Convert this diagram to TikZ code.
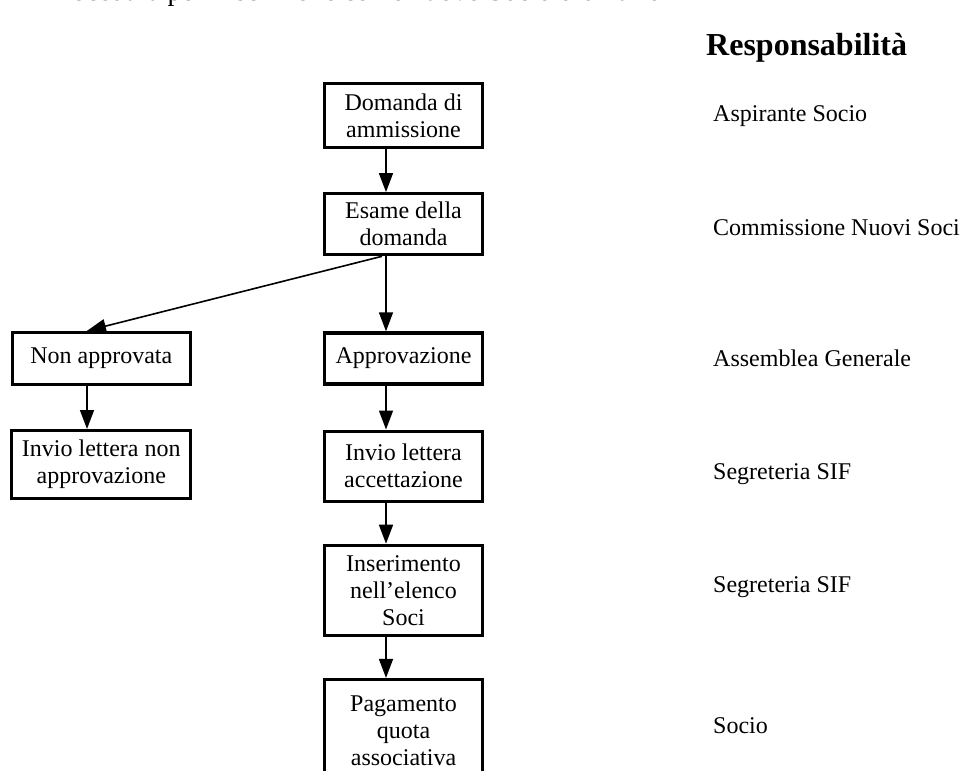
\documentclass[tikz,border=0pt]{standalone}
\usepackage{fontspec}
\setmainfont{Liberation Serif}
\usepackage{tikz}
\usetikzlibrary{positioning, arrows.meta}

\begin{document}
\begin{tikzpicture}[x=1pt, y=-1pt, font=\fontsize{24}{27}\selectfont,
 box/.style={draw, line width=3.2pt, minimum width=158pt, align=center, inner sep=3pt},
 lab/.style={anchor=west, inner sep=0pt},
 arr/.style={-{Triangle[length=19pt,width=14pt]}, line width=1.6pt}]
\useasboundingbox (0,0) rectangle (962,771);

\node[anchor=base west, inner sep=0pt, font=\fontsize{28}{30}\selectfont](tit) at (47,1){Procedura per l’iscrizione come nuovo Socio ordinario};
\node[anchor=west, inner sep=0pt, font=\bfseries\fontsize{32}{36}\selectfont](resp) at (706,48){Responsabilità};

\node[box, minimum height=64pt](dom) at (403.5,115.5){Domanda di\\ammissione};
\node[box, minimum height=61pt, below=43pt of dom](esa){Esame della\\domanda};
\node[box, minimum height=51pt, below=75pt of esa](app){Approvazione};
\node[box, minimum height=70pt, below=44pt of app](acc){Invio lettera\\accettazione};
\node[box, minimum height=90pt, below=41pt of acc](ins){Inserimento\\nell’elenco\\Soci};
\node[box, minimum height=102pt, below=41pt of ins](pag){Pagamento\\quota\\associativa};

\node[box, minimum height=52pt, minimum width=178pt, left=131pt of app](non){Non approvata};
\node[box, minimum height=68pt, minimum width=179pt, below=43pt of non](inv){Invio lettera non\\approvazione};

\coordinate (ax) at (386,0);
\coordinate (bx) at (87,0);
\coordinate (dx) at (382,0);
\coordinate (rx) at (713,0);

\foreach \a/\b in {dom/esa,esa/app,app/acc,acc/ins,ins/pag}
  {\draw[arr](\a.south -| ax)--(\b.north -| ax);}
\draw[arr](esa.south -| dx)--(non.north -| bx);
\draw[arr](non.south -| bx)--(inv.north -| bx);

\node[lab](r1) at ([yshift=-1pt]dom -| rx){Aspirante Socio};
\node[lab](r2) at ([yshift=-3pt]esa -| rx){Commissione Nuovi Soci};
\node[lab](r3) at (app -| rx){Assemblea Generale};
\node[lab](r4) at ([yshift=-8pt]acc -| rx){Segreteria SIF};
\node[lab](r5) at ([yshift=3pt]ins -| rx){Segreteria SIF};
\node[lab](r6) at ([yshift=5pt]pag -| rx){Socio};

\end{tikzpicture}
\end{document}
